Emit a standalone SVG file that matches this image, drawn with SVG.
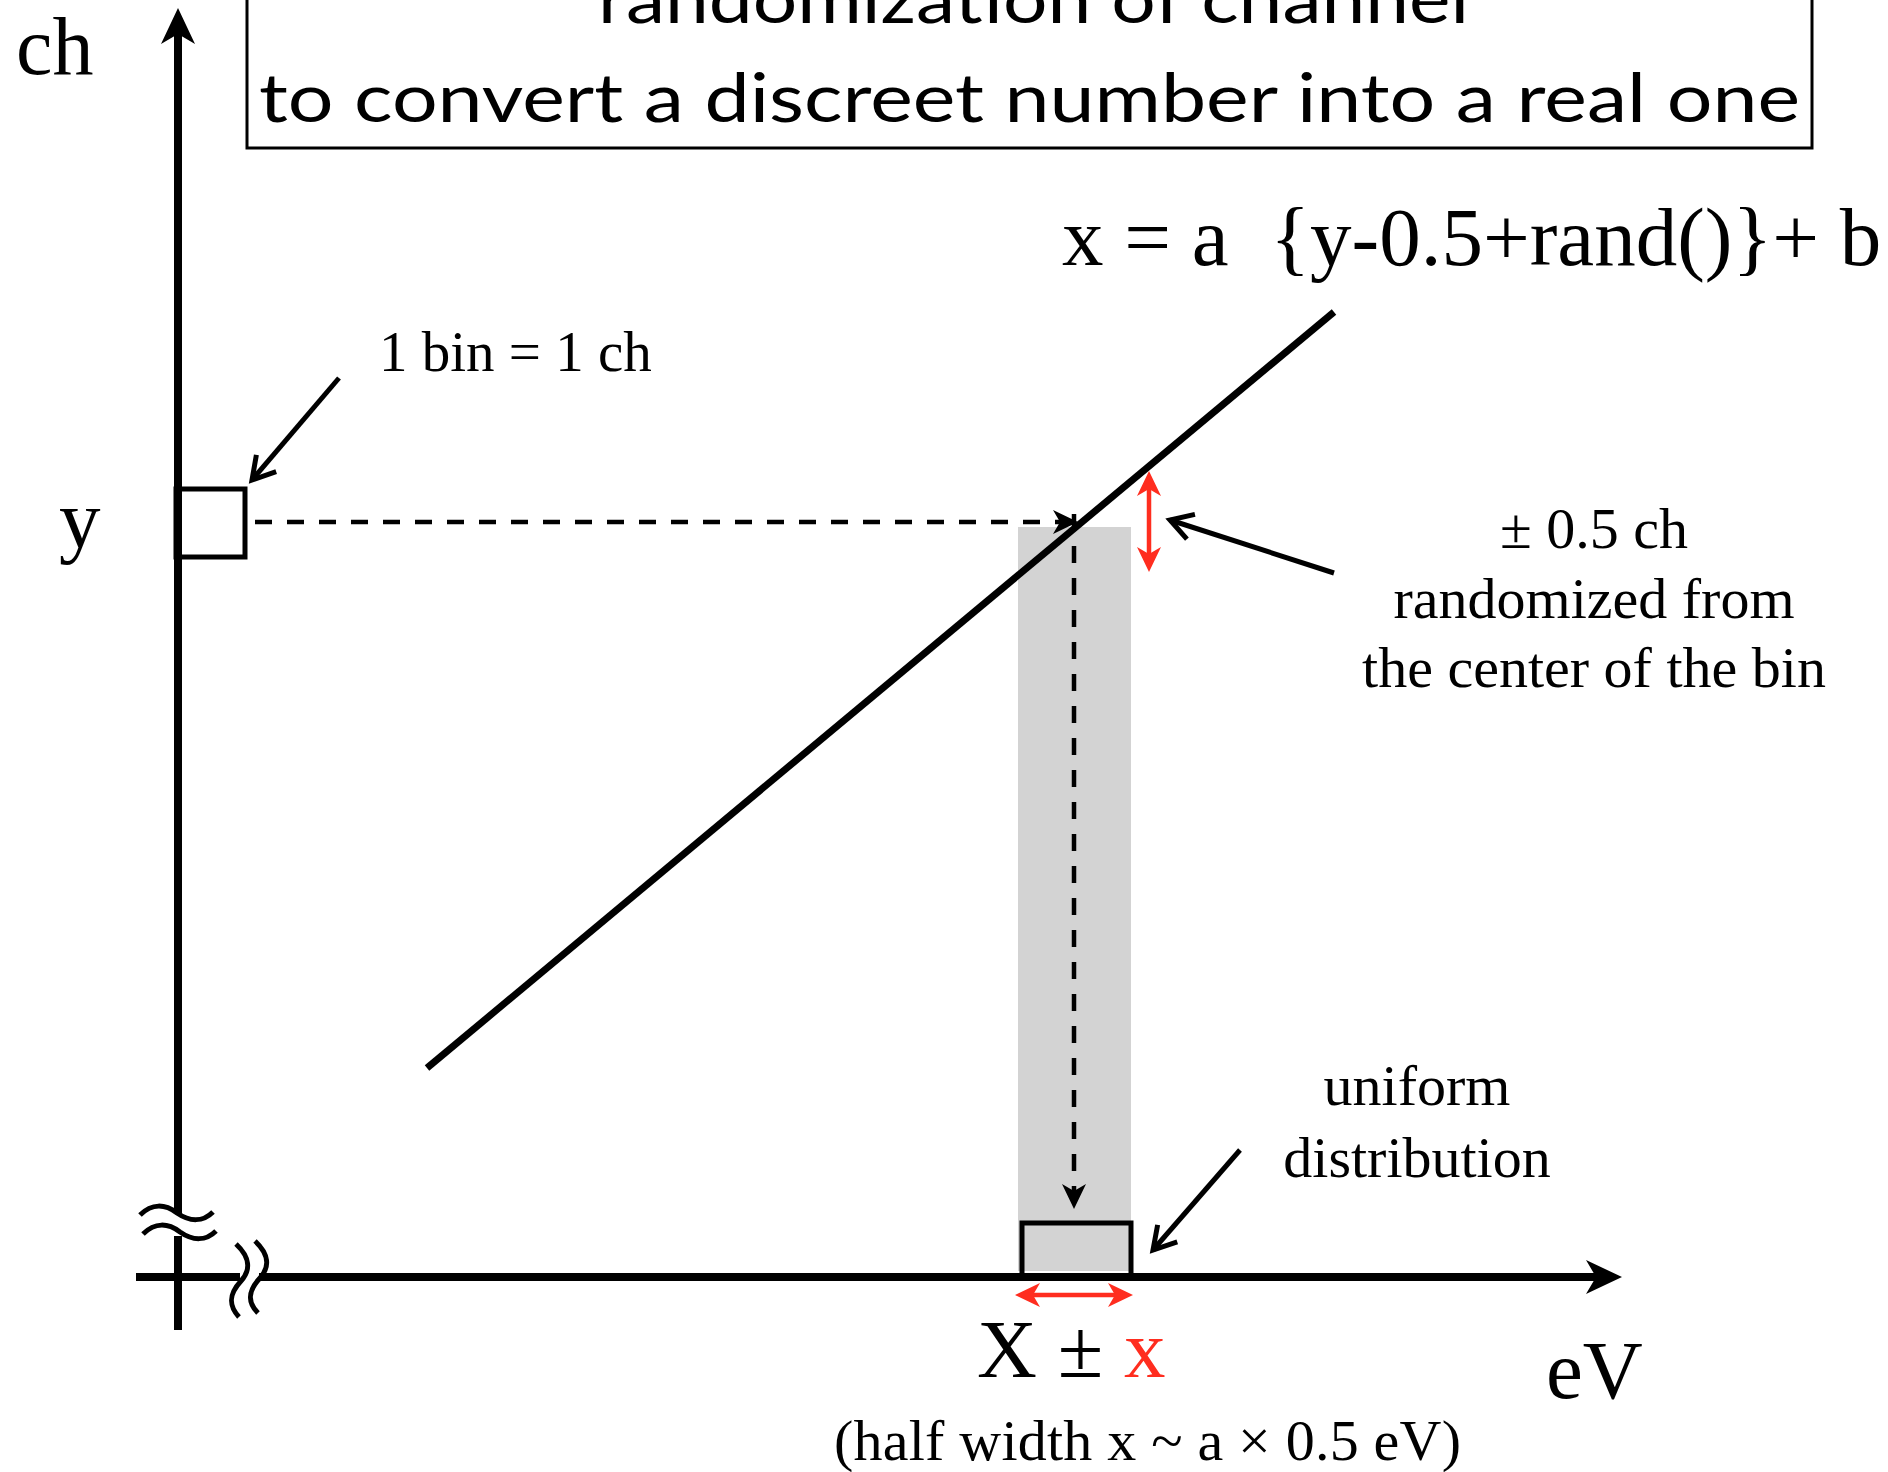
<svg xmlns="http://www.w3.org/2000/svg" width="1888" height="1472" viewBox="0 0 1888 1472">
<style>
.serif{font-family:"Liberation Serif","Times New Roman",serif;fill:#000}
.sans{font-family:Lato,"Open Sans",sans-serif;fill:#000}
.pre{white-space:pre}
.red{fill:#ff2d1f}
.axis{stroke:#000;stroke-width:8;fill:none}
.wave{stroke:#000;stroke-width:5;fill:none}
.dash{stroke:#000;stroke-width:4.5;stroke-dasharray:17 15;fill:none}
.call{stroke:#000;stroke-width:5;fill:none}
.redl{stroke:#ff2d1f;stroke-width:4.5;fill:none}
</style>
<defs>
<marker id="axisHead" markerUnits="userSpaceOnUse" viewBox="-12 -20 40 40" markerWidth="40" markerHeight="40" refX="0" refY="0" orient="auto"><path d="M-10,-17 L26,0 L-10,17 L0,0 Z" fill="#000"/></marker>
<marker id="smallHead" markerUnits="userSpaceOnUse" viewBox="-9 -14 30 28" markerWidth="30" markerHeight="28" refX="0" refY="0" orient="auto"><path d="M-7,-12 L18,0 L-7,12 L0,0 Z" fill="#000"/></marker>
<marker id="redHead" markerUnits="userSpaceOnUse" viewBox="-9 -14 30 28" markerWidth="30" markerHeight="28" refX="0" refY="0" orient="auto-start-reverse"><path d="M-7,-12 L18,0 L-7,12 L0,0 Z" fill="#ff2d1f"/></marker>
<marker id="openHead" markerUnits="userSpaceOnUse" viewBox="-28 -18 34 36" markerWidth="34" markerHeight="36" refX="0" refY="0" orient="auto"><path d="M-22,-13 L0,0 L-22,13" fill="none" stroke="#000" stroke-width="5"/></marker>
</defs>

<g id="title">
<rect x="247" y="-10" width="1565" height="158" fill="#fff" stroke="#000" stroke-width="3"/>
<text class="sans" x="598" y="23" font-size="68" textLength="871" lengthAdjust="spacingAndGlyphs">randomization of channel</text>
<text class="sans" x="259" y="122" font-size="68" textLength="1541" lengthAdjust="spacingAndGlyphs">to convert a discreet number into a real one</text>
</g>

<g id="range-band">
<rect x="1018" y="527" width="113" height="744" fill="#d3d3d3"/>
</g>

<g id="axes">
<line class="axis" x1="178" y1="1214" x2="178" y2="34" marker-end="url(#axisHead)"/>
<line class="axis" x1="178" y1="1236" x2="178" y2="1330"/>
<path class="wave" d="M140,1215 C152,1203 165,1204 177,1213 C190,1222 203,1222 213,1212"/>
<path class="wave" d="M143,1234 C155,1222 168,1223 180,1232 C193,1241 206,1241 216,1231"/>
<line class="axis" x1="136" y1="1277" x2="240" y2="1277"/>
<line class="axis" x1="259" y1="1277" x2="1596" y2="1277" marker-end="url(#axisHead)"/>
<path class="wave" d="M236,1244 C250,1257 251,1270 241,1281 C229,1294 228,1305 239,1317"/>
<path class="wave" d="M255,1241 C269,1254 270,1267 260,1278 C248,1291 247,1302 258,1313"/>
<text class="serif" x="16" y="74" font-size="82">ch</text>
<text class="serif" x="59" y="547" font-size="83">y</text>
<text class="serif" x="1546" y="1398" font-size="83">eV</text>
</g>

<g id="bin-y">
<rect x="176" y="489" width="69" height="68" fill="none" stroke="#000" stroke-width="5"/>
<text class="serif" x="379" y="371" font-size="57">1 bin = 1 ch</text>
</g>

<g id="calibration-line">
<line x1="427" y1="1068" x2="1334" y2="312" stroke="#000" stroke-width="7"/>
<text class="serif pre" x="1062" y="265" font-size="83" xml:space="preserve">x = a  {y-0.5+rand()}+ b</text>
</g>

<g id="bin-x">
<rect x="1022" y="1223" width="109" height="54" fill="none" stroke="#000" stroke-width="5"/>
<text class="serif" x="977" y="1377" font-size="83">X ± <tspan class="red">x</tspan></text>
<text class="serif" x="834" y="1460" font-size="58" textLength="627">(half width x ~ a × 0.5 eV)</text>
</g>

<g id="note-random">
<text class="serif" font-size="58" text-anchor="middle"><tspan x="1594" y="548">± 0.5 ch</tspan><tspan x="1594" y="618">randomized from</tspan><tspan x="1594" y="687">the center of the bin</tspan></text>
</g>

<g id="note-uniform">
<text class="serif" font-size="58" text-anchor="middle"><tspan x="1417" y="1105">uniform</tspan><tspan x="1417" y="1177">distribution</tspan></text>
</g>

<g id="connectors">
<line class="dash" x1="255" y1="522" x2="1060" y2="522" marker-end="url(#smallHead)"/>
<line class="dash" x1="1074" y1="514" x2="1074" y2="1191" marker-end="url(#smallHead)"/>
<line class="redl" x1="1149" y1="489" x2="1149" y2="554" marker-start="url(#redHead)" marker-end="url(#redHead)"/>
<line class="redl" x1="1033" y1="1295" x2="1115" y2="1295" marker-start="url(#redHead)" marker-end="url(#redHead)"/>
<line class="call" x1="339" y1="378" x2="252" y2="480" marker-end="url(#openHead)"/>
<line class="call" x1="1334" y1="573" x2="1170" y2="520" marker-end="url(#openHead)"/>
<line class="call" x1="1240" y1="1150" x2="1153" y2="1250" marker-end="url(#openHead)"/>
</g>
</svg>
